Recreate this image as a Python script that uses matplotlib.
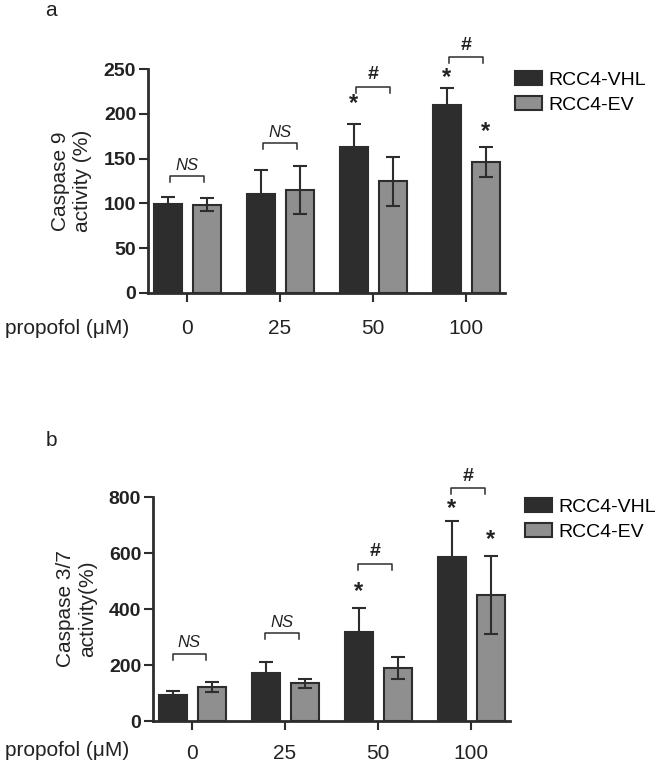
import numpy as np
import matplotlib
matplotlib.use("Agg")
import matplotlib.pyplot as plt
from matplotlib.patches import Patch

plt.rcParams['font.family'] = ['Liberation Sans', 'DejaVu Sans']

# data
doses = ["0", "25", "50", "100"]
series = ["RCC4-VHL", "RCC4-EV"]

casp9_vhl = [99, 111, 163, 210]
casp9_vhl_err = [8.5, 26, 26, 19]
casp9_ev = [98.5, 115, 124.5, 146]
casp9_ev_err = [7.5, 27, 27, 17]

casp37_vhl = [93, 170, 318, 585]
casp37_vhl_err = [14, 40, 86, 129]
casp37_ev = [121, 135, 189, 450]
casp37_ev_err = [19, 16, 40, 138]

# significance marks (heights in data units)
casp9_brackets = [130.6, 167, 230.4, 263]
casp9_bracket_text = ["NS", "NS", "#", "#"]
casp9_star_vhl = [None, None, 212, 241]
casp9_star_ev = [None, None, None, 180]

casp37_brackets = [241, 313, 562, 832]
casp37_bracket_text = ["NS", "NS", "#", "#"]
casp37_star_vhl = [None, None, 461, 758]
casp37_star_ev = [None, None, None, 648]

DARK = "#2d2d2d"
GRAY = "#8f8f8f"
EDGE = "#2d2d2d"
TXT = "#222222"

W, H = 665, 764
fig = plt.figure(figsize=(W / 100, H / 100), dpi=100)


def px_axes(l, t, r, b):
    return fig.add_axes([l / W, 1 - b / H, (r - l) / W, (b - t) / H])


def draw_panel(ax, vhl, vhl_err, ev, ev_err, ymax, yticks, ylabel,
               brackets, btext, star_vhl, star_ev, leg, bx, ylab_x, pad):
    x = np.arange(len(doses))
    off_v, off_e, w = -0.205, 0.215, 0.295
    ax.bar(x + off_v, vhl, w, color=DARK, edgecolor=EDGE, linewidth=1.5, zorder=2)
    ax.bar(x + off_e, ev, w, color=GRAY, edgecolor=EDGE, linewidth=1.5, zorder=2)
    ax.errorbar(x + off_v, vhl, yerr=vhl_err, fmt="none", ecolor=EDGE,
                elinewidth=1.5, capsize=4.7, capthick=1.5, zorder=3)
    ax.errorbar(x + off_e, ev, yerr=ev_err, fmt="none", ecolor=EDGE,
                elinewidth=1.5, capsize=4.7, capthick=1.5, zorder=3)

    ax.set_xlim(-0.42, 3.42)
    ax.set_ylim(0, ymax)
    ax.set_yticks(yticks)
    ax.set_yticklabels([str(v) for v in yticks], fontsize=14, fontweight="bold", color=TXT)
    ax.set_xticks(x)
    ax.set_xticklabels(doses, fontsize=15, color=TXT)
    ax.tick_params(axis="y", length=6.5, width=1.5, pad=2, color=EDGE)
    ax.tick_params(axis="x", length=6.5, width=1.5, pad=pad, color=EDGE)
    for s in ["top", "right"]:
        ax.spines[s].set_visible(False)
    for s in ["left", "bottom"]:
        ax.spines[s].set_linewidth(2)
        ax.spines[s].set_color(EDGE)

    ax.text(ylab_x, 0.5, ylabel, rotation=90, ha="center", va="center",
            fontsize=15, color=TXT, transform=ax.transAxes)

    leg_h = ymax * 0.027
    for i, (yb, t) in enumerate(zip(brackets, btext)):
        x0, x1 = i + bx[0], i + bx[1]
        ax.plot([x0, x0, x1, x1], [yb - leg_h, yb, yb, yb - leg_h], color=EDGE,
                lw=1.1, clip_on=False, zorder=4)
        if t == "NS":
            ax.text((x0 + x1) / 2, yb + ymax * 0.015, t, ha="center", va="bottom",
                    fontsize=12, style="italic", color=TXT, clip_on=False)
        else:
            ax.text((x0 + x1) / 2, yb + ymax * 0.015, t, ha="center", va="bottom",
                    fontsize=14, fontweight="bold", color=TXT, clip_on=False)
    for i, s in enumerate(star_vhl):
        if s is not None:
            ax.text(i + off_v, s, "*", ha="center", va="center", fontsize=17,
                    fontweight="bold", color=TXT, clip_on=False)
    for i, s in enumerate(star_ev):
        if s is not None:
            ax.text(i + off_e, s, "*", ha="center", va="center", fontsize=17,
                    fontweight="bold", color=TXT, clip_on=False)

    handles = [Patch(facecolor=DARK, edgecolor=EDGE, linewidth=1.5),
               Patch(facecolor=GRAY, edgecolor=EDGE, linewidth=1.5)]
    fig.legend(handles, series, loc="upper left", bbox_to_anchor=leg, frameon=False,
               fontsize=14, handlelength=1.4, handleheight=0.77, handletextpad=0.3,
               labelspacing=0.35, borderpad=0, borderaxespad=0)


ax_a = px_axes(148, 69, 505, 293)
draw_panel(ax_a, casp9_vhl, casp9_vhl_err, casp9_ev, casp9_ev_err, 250,
           [0, 50, 100, 150, 200, 250], "Caspase 9\nactivity (%)",
           casp9_brackets, casp9_bracket_text, casp9_star_vhl, casp9_star_ev,
           (515 / W, 1 - 71 / H), (-0.18, 0.18), -0.213, 12)

ax_b = px_axes(153, 497, 510, 721)
draw_panel(ax_b, casp37_vhl, casp37_vhl_err, casp37_ev, casp37_ev_err, 800,
           [0, 200, 400, 600, 800], "Caspase 3/7\nactivity(%)",
           casp37_brackets, casp37_bracket_text, casp37_star_vhl, casp37_star_ev,
           (525 / W, 1 - 498 / H), (-0.21, 0.15), -0.213, 10)

fig.text(5 / W, 1 - 328 / H, "propofol (μM)", fontsize=15, color=TXT, va="center", ha="left")
fig.text(5 / W, 1 - 751 / H, "propofol (μM)", fontsize=15, color=TXT, va="center", ha="left")
fig.text(51 / W, 1 - 10 / H, "a", fontsize=15, color=TXT, va="center", ha="center")
fig.text(51 / W, 1 - 441 / H, "b", fontsize=15, color=TXT, va="center", ha="center")

fig.savefig("out.png", dpi=100)
